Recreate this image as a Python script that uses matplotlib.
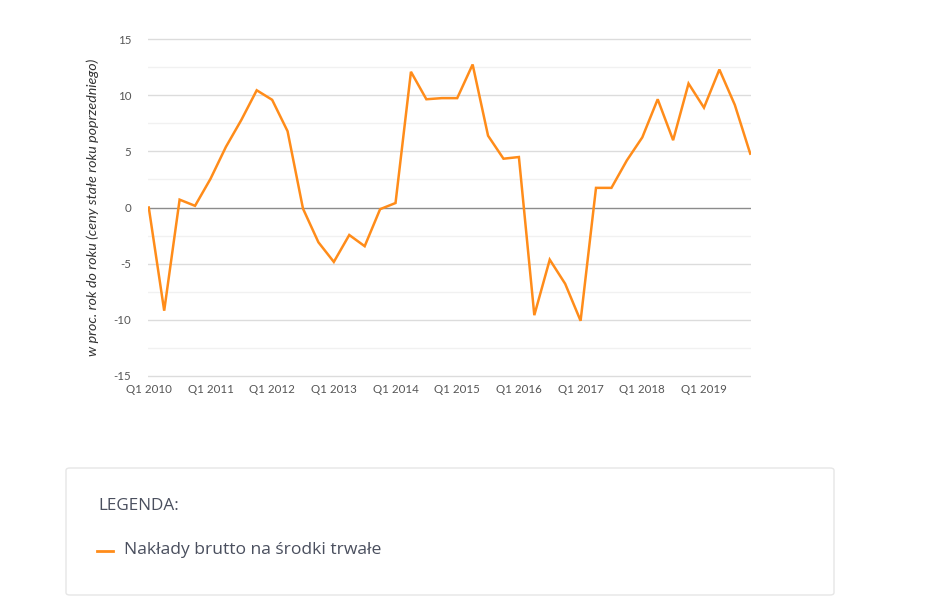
import matplotlib
matplotlib.use("Agg")
import matplotlib.pyplot as plt
from matplotlib.patches import FancyBboxPatch
from matplotlib.lines import Line2D

years = list(range(2010, 2020))
quarters = [f"Q{q} {y}" for y in years for q in range(1, 5)]
values = [0.0, -9.2, 0.7, 0.15, 2.55, 5.4, 7.8, 10.45, 9.6, 6.8,
          -0.1, -3.1, -4.85, -2.45, -3.45, -0.15, 0.4, 12.1, 9.65, 9.75,
          9.75, 12.75, 6.4, 4.35, 4.5, -9.6, -4.65, -6.8, -10.1, 1.75,
          1.75, 4.2, 6.25, 9.65, 6.0, 11.05, 8.9, 12.3, 9.15, 4.8]
tick_labels = [f"Q1 {y}" for y in years]
y_ticks = [-15, -10, -5, 0, 5, 10, 15]
y_minor = [-12.5, -7.5, -2.5, 2.5, 7.5, 12.5]
series_name = "Nakłady brutto na środki trwałe"
y_label = "w proc. rok do roku (ceny stałe roku poprzedniego)"

W, H = 945, 608
fig = plt.figure(figsize=(W / 100, H / 100), dpi=100)
fig.patch.set_facecolor("white")
ax = fig.add_axes([148 / W, 1 - 378 / H, (751 - 148) / W, (378 - 37) / H])

x = list(range(len(values)))
for v in y_minor:
    ax.axhline(v, color="#f1f1f1", lw=1.0, zorder=1)
for v in y_ticks:
    if v == 0:
        ax.axhline(v, color="#8c8c8c", lw=1.0, zorder=2)
    else:
        ax.axhline(v, color="#dcdcdc", lw=1.0, zorder=1)

ax.plot(x, values, color="#ff8c1a", lw=1.8, zorder=3, solid_joinstyle="miter")

ax.set_xlim(-0.05, len(values) - 1 + 0.05)
ax.set_ylim(-15.2, 15.2)
ax.set_yticks(y_ticks)
ax.set_yticklabels([str(v) for v in y_ticks])
ax.set_xticks([x[i] for i in range(0, len(values), 4)])
ax.set_xticklabels(tick_labels)
for s in ax.spines.values():
    s.set_visible(False)
ax.tick_params(axis="both", length=0, labelsize=8.3, colors="#555555", labelfontfamily="Lato")
ax.tick_params(axis="y", pad=12)
ax.tick_params(axis="x", pad=4)
fig.text(93 / W, 1 - 207 / H, y_label, fontsize=10.3, style="italic", color="#333333", family="Lato",
         rotation=90, ha="center", va="center")

# legend box
box = FancyBboxPatch((66 / W, 1 - 595 / H), (834 - 66) / W, (595 - 468) / H,
                     boxstyle="round,pad=0,rounding_size=0.004", transform=fig.transFigure,
                     facecolor="white", edgecolor="#e6e6e6", lw=1.0)
fig.patches.append(box)
fig.text(98 / W, 1 - 506 / H, "LEGENDA:", fontsize=12.3, color="#4a4f5e", family="Open Sans",
         va="center", ha="left")
fig.lines.append(Line2D([97 / W, 113 / W], [1 - 551 / H, 1 - 551 / H], transform=fig.transFigure,
                        color="#ff8c1a", lw=2.0))
fig.text(124 / W, 1 - 550 / H, series_name, fontsize=12.6, color="#4a4f5e", family="Open Sans",
         va="center", ha="left")

fig.savefig("out.png", dpi=100, facecolor="white")
